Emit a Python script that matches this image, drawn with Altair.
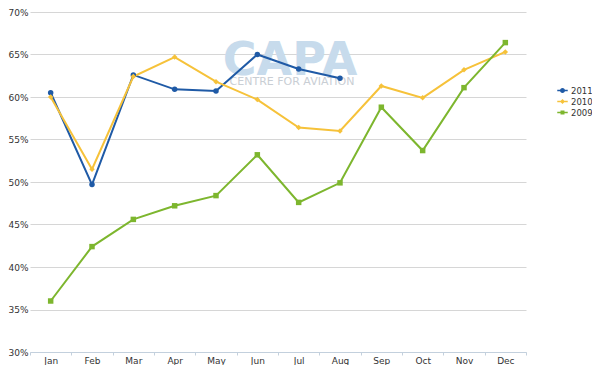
import altair as alt
import pandas as pd

months = ["Jan", "Feb", "Mar", "Apr", "May", "Jun", "Jul", "Aug", "Sep", "Oct", "Nov", "Dec"]
v2011 = [60.5, 49.7, 62.6, 60.9, 60.7, 65.0, 63.3, 62.2]
v2010 = [60.0, 51.5, 62.4, 64.7, 61.8, 59.7, 56.4, 56.0, 61.3, 59.9, 63.2, 65.3]
v2009 = [36.0, 42.4, 45.6, 47.2, 48.4, 53.2, 47.6, 49.9, 58.8, 53.7, 61.1, 66.4]
series = ["2011", "2010", "2009"]
colors = ["#1f5aa6", "#f6c23a", "#7db62e"]
watermark = ["CAPA", "CENTRE FOR AVIATION"]

rows = []
for name, vals in zip(series, [v2011, v2010, v2009]):
    for m, v in zip(months, vals):
        rows.append({"month": m, "series": name, "value": v / 100})
df = pd.DataFrame(rows)

FONT = "DejaVu Sans"

x = alt.X("month:N", sort=months, title=None,
          scale=alt.Scale(domain=months, paddingInner=0, paddingOuter=0),
          axis=alt.Axis(labelAngle=0, labelFontSize=9, labelColor="#333333", labelFont=FONT,
                        domainColor="#c3d0dd", tickColor="#c3d0dd", tickSize=3, tickBand="extent",
                        labelPadding=1, grid=False))
y = alt.Y("value:Q", title=None,
          scale=alt.Scale(domain=[0.30, 0.70], nice=False, zero=False),
          axis=alt.Axis(format=".0%", values=[0.30, 0.35, 0.40, 0.45, 0.50, 0.55, 0.60, 0.65, 0.70],
                        labelFontSize=9, labelColor="#333333", labelFont=FONT, labelPadding=2,
                        domain=False, ticks=False, gridColor="#d6d6d6", gridWidth=1))

def cscale():
    return alt.Scale(domain=series, range=colors)

wm_big = alt.Chart(pd.DataFrame({"t": [watermark[0]]})).mark_text(
    font=FONT, fontSize=46, fontWeight="bold", color="#c7dbec", align="center", baseline="alphabetic"
).encode(text="t:N", x=alt.value(260), y=alt.value(63))
wm_small = alt.Chart(pd.DataFrame({"t": [watermark[1]]})).mark_text(
    font=FONT, fontSize=11, color="#c9ced4", align="center", baseline="middle"
).encode(text="t:N", x=alt.value(262), y=alt.value(70))

lines = alt.Chart(df).mark_line(strokeWidth=2).encode(
    x=x, y=y,
    color=alt.Color("series:N", scale=cscale(), legend=None),
    detail="series:N",
)

points = alt.Chart(df).mark_point(filled=True, size=30, opacity=1).encode(
    x=x, y=y,
    color=alt.Color("series:N", scale=cscale(), legend=None),
    shape=alt.Shape("series:N", scale=alt.Scale(domain=series, range=["circle", "diamond", "square"]), legend=None),
)

p2011 = "M-1,-0.13H-0.45V0.13H-1Z M0.45,-0.13H1V0.13H0.45Z M-0.48,0A0.48,0.48 0 1,1 0.48,0A0.48,0.48 0 1,1 -0.48,0Z"
p2010 = "M-1,-0.13H-0.32V0.13H-1Z M0.32,-0.13H1V0.13H0.32Z M0,-0.48L0.48,0L0,0.48L-0.48,0Z"
p2009 = "M-1,-0.13H-0.38V0.13H-1Z M0.38,-0.13H1V0.13H0.38Z M-0.38,-0.38H0.38V0.38H-0.38Z"

leg = dict(title=None, orient="none", legendX=527, legendY=73,
           symbolSize=110, rowPadding=1, labelFontSize=8.5,
           labelFont=FONT, labelColor="#333333", labelOffset=3,
           symbolOpacity=1, symbolStrokeWidth=0)

legend_layer = alt.Chart(df).mark_point(filled=True, size=1, opacity=0).encode(
    x=x, y=y,
    color=alt.Color("series:N", scale=cscale(), legend=alt.Legend(**leg)),
    shape=alt.Shape("series:N", scale=alt.Scale(domain=series, range=[p2011, p2010, p2009]),
                    legend=alt.Legend(**leg)),
)

chart = alt.layer(wm_big, wm_small, lines, points, legend_layer).resolve_scale(
    shape="independent", color="independent"
).properties(
    width=496, height=340,
    autosize=alt.AutoSizeParams(type="none"),
    padding={"left": 22, "top": 4, "right": 66, "bottom": 13},
).configure_view(stroke=None)

chart.save("out.html", embed_options={"renderer": "svg", "actions": False})
